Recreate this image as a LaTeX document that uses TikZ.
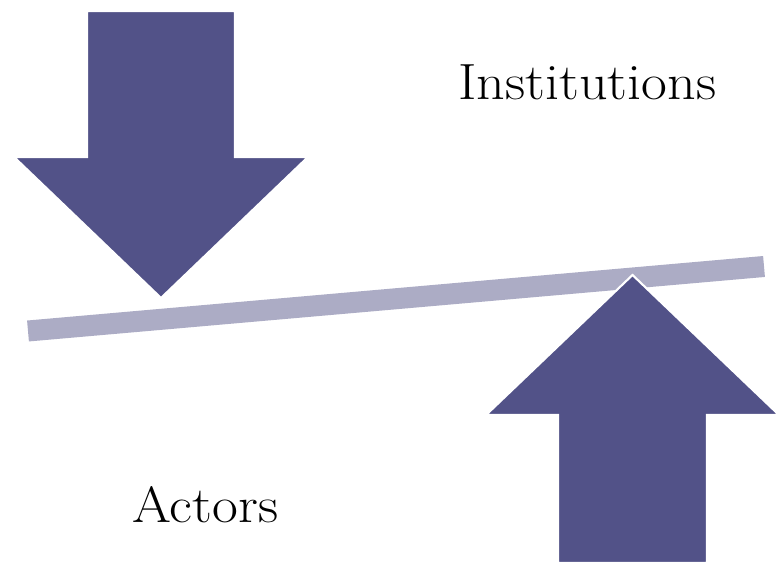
\documentclass[tikz,border=0pt]{standalone}
\usepackage{tikz}

\definecolor{arrowblue}{RGB}{82,82,136}
\definecolor{beamgray}{RGB}{172,172,197}

\begin{document}
\begin{tikzpicture}[
    bigarrow/.style={fill=arrowblue,draw=white,line width=1.2pt,line join=miter},
    word/.style={inner sep=0pt,anchor=base west,xscale=1.1,transform shape,
      font=\fontsize{29}{34}\selectfont}]
  \useasboundingbox (0,0) rectangle (15.54,11.3);
  % the tilted beam, with a thin white rim
  \coordinate (beamL) at (0.56,4.68);
  \coordinate (beamR) at (15.28,5.97);
  \draw[white,line width=0.5cm] (beamL) -- (beamR);
  \draw[beamgray,line width=0.42cm] (beamL) -- (beamR);
  % pressure from above
  \begin{scope}[shift={(3.22,0)}]
    \filldraw[bigarrow] (-1.48,11.08) -- (1.48,11.08) -- (1.48,8.16) -- (2.94,8.16)
      -- (0,5.34) -- (-2.94,8.16) -- (-1.48,8.16) -- cycle;
  \end{scope}
  % pressure from below
  \begin{scope}[shift={(12.65,0)}]
    \filldraw[bigarrow] (-1.49,0.04) -- (1.49,0.04) -- (1.49,3.00) -- (2.93,3.00)
      -- (0,5.80) -- (-2.93,3.00) -- (-1.49,3.00) -- cycle;
  \end{scope}
  \node[word] (inst) at (9.16,9.30) {Institutions};
  \node[word] (act) at (2.64,0.84) {Actors};
\end{tikzpicture}
\end{document}
